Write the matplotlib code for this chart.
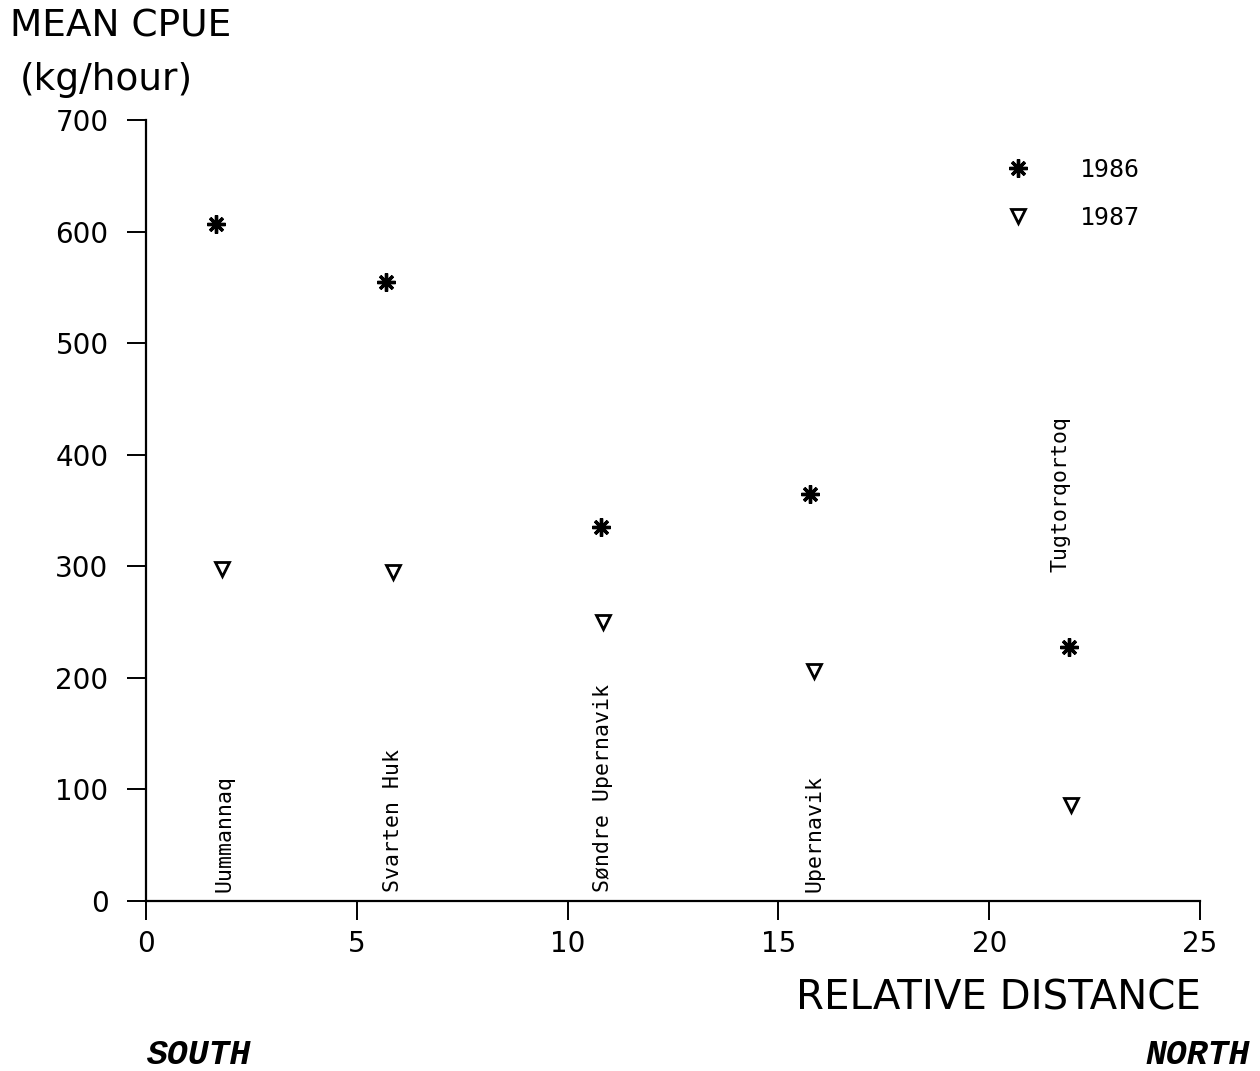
import matplotlib
matplotlib.use("Agg")
import matplotlib.pyplot as plt

# values
x_1986 = [1.65, 5.7, 10.8, 15.75, 21.9]
cpue_1986 = [607, 555, 335, 365, 228]
x_1987 = [1.8, 5.85, 10.85, 15.85, 21.95]
cpue_1987 = [298, 295, 250, 206, 86]

stations = ["Uummannaq", "Svarten Huk", "Søndre Upernavik", "Upernavik", "Tugtorqortoq"]
station_x = [1.87, 5.85, 10.85, 15.85, 21.7]
station_label_y = [8, 8, 8, 8, 295]

x_ticks = [0, 5, 10, 15, 20, 25]
y_ticks = [0, 100, 200, 300, 400, 500, 600, 700]

fig = plt.figure(figsize=(12.6, 10.71), dpi=100)
ax = fig.add_axes([0.1159, 0.1587, 0.8365, 0.7293])

ax.plot(x_1986, cpue_1986, linestyle="none", marker=(8, 2, 0), markersize=13,
        markeredgewidth=2.4, color="black", label="1986")
ax.plot(x_1987, cpue_1987, linestyle="none", marker="v", markersize=10,
        markerfacecolor="none", markeredgewidth=2.0, color="black", label="1987")

for name, sx, sy in zip(stations, station_x, station_label_y):
    ax.text(sx, sy, name, rotation=90, ha="center", va="bottom",
            family="DejaVu Sans Mono", fontsize=15.5)

ax.set_xlim(0, 25)
ax.set_ylim(0, 700)
ax.set_xticks(x_ticks)
ax.set_yticks(y_ticks)
ax.spines["top"].set_visible(False)
ax.spines["right"].set_visible(False)
for side in ("left", "bottom"):
    ax.spines[side].set_linewidth(1.6)
ax.tick_params(axis="both", direction="out", length=14, width=1.4,
               labelsize=20, labelcolor="black")
ax.tick_params(axis="y", pad=13)
ax.tick_params(axis="x", pad=7)

leg = ax.legend(loc="upper left", bbox_to_anchor=(0.794, 0.98), frameon=False,
                handlelength=1, handletextpad=2, labelspacing=0.95,
                prop={"family": "DejaVu Sans Mono", "size": 18})

fig.text(0.008, 0.975, "MEAN CPUE", fontsize=27, ha="left", va="center")
fig.text(0.016, 0.925, "(kg/hour)", fontsize=27, ha="left", va="center")
fig.text(0.953, 0.068, "RELATIVE DISTANCE", fontsize=29, ha="right", va="center")
fig.text(0.117, 0.015, "SOUTH", family="Liberation Mono", style="italic",
         fontweight="bold", fontsize=25, ha="left", va="center")
fig.text(0.992, 0.015, "NORTH", family="Liberation Mono", style="italic",
         fontweight="bold", fontsize=25, ha="right", va="center")

fig.savefig("out.png", dpi=100)
